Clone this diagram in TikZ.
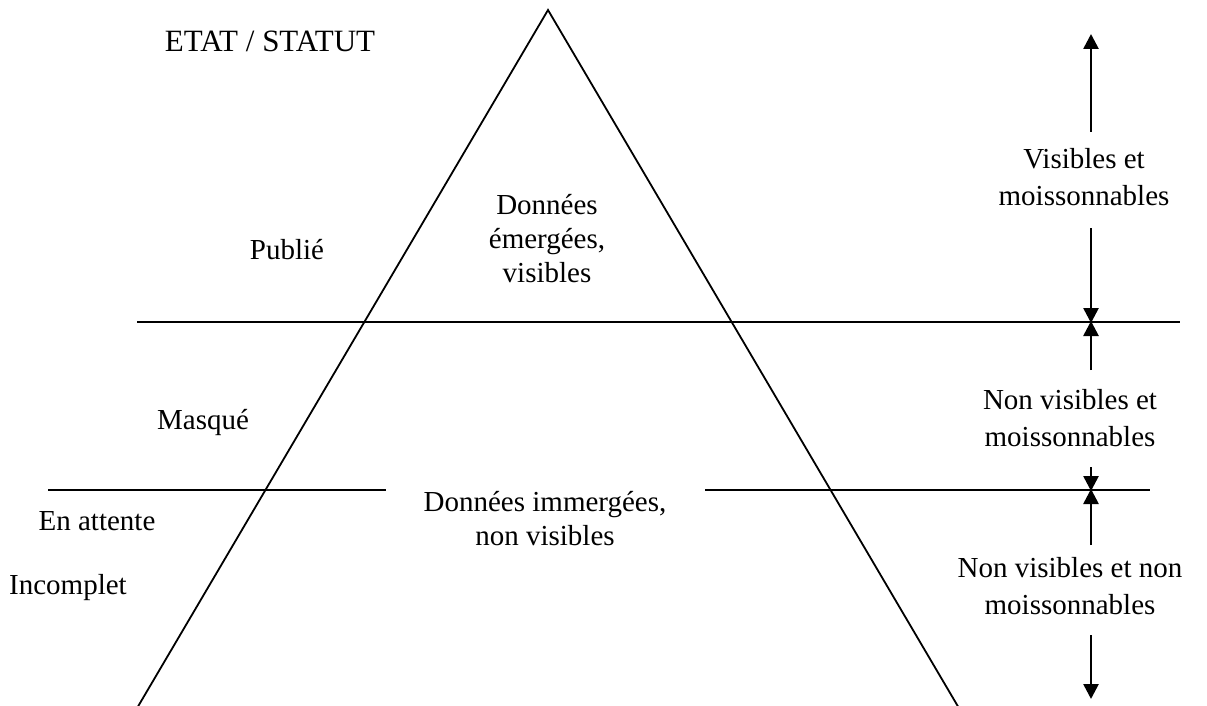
\documentclass[tikz,border=0pt]{standalone}
\usepackage{fontspec}
\setmainfont{Liberation Serif}
\usetikzlibrary{arrows.meta}
\begin{document}
\begin{tikzpicture}[x=1pt,y=-1pt,
  lbl/.style={font=\fontsize{29}{34}\selectfont, inner sep=0pt, align=center},
  rlbl/.style={font=\fontsize{29}{37}\selectfont, inner sep=0pt, align=center},
  edge/.style={line width=1.8pt},
  arr/.style={line width=2.6pt, -{Triangle[width=15pt,length=15pt]}, shorten >=-1pt}]
\useasboundingbox (0,0) rectangle (1207,706);
% triangle
\coordinate (apex) at (548,10);
\coordinate (bl) at (138,706.5);
\coordinate (br) at (958,706.5);
\draw[edge, line join=miter] (bl) -- (apex) -- (br);
\draw[line width=1.2pt, black!25] (bl) -- (br);
% horizontal lines
\coordinate (h1a) at (137,322);
\coordinate (h1b) at (1180,322);
\coordinate (h2a) at (48,490);
\coordinate (h2b) at (386,490);
\coordinate (h2c) at (705,490);
\coordinate (h2d) at (1150,490);
\draw[edge] (h1a) -- (h1b);
\draw[edge] (h2a) -- (h2b);
\draw[edge] (h2c) -- (h2d);
% left labels
\node[lbl, anchor=base, font=\fontsize{31}{36}\selectfont] (etat) at (270,52) {ETAT / STATUT};
\node[lbl, anchor=base] (publie) at (287,259) {Publié};
\node[lbl, anchor=base] (masque) at (203,429) {Masqué};
\node[lbl, anchor=base] (attente) at (97,530) {En attente};
\node[lbl, anchor=base] (incomplet) at (68,594) {Incomplet};
% triangle labels (base = last line)
\node[lbl, anchor=base] (emerg) at (547,282) {Données\\émergées,\\visibles};
\node[lbl, anchor=base] (immerg) at (545,545) {Données immergées,\\non visibles};
% right labels (base = last line)
\node[rlbl, anchor=base] (vis) at (1084,205) {Visibles et\\moissonnables};
\node[rlbl, anchor=base] (nvm) at (1070,446) {Non visibles et\\moissonnables};
\node[rlbl, anchor=base] (nvnm) at (1070,614) {Non visibles et non\\moissonnables};
% arrows
\coordinate (a1s) at (1091,132);
\coordinate (a1e) at (1091,35);
\coordinate (a2s) at (1091,228);
\coordinate (a2e) at (1091,322);
\coordinate (a3s) at (1091,370);
\coordinate (a3e) at (1091,322);
\coordinate (a4s) at (1091,467);
\coordinate (a4e) at (1091,490);
\coordinate (a5s) at (1091,545);
\coordinate (a5e) at (1091,490);
\coordinate (a6s) at (1091,635);
\coordinate (a6e) at (1091,698);
\draw[arr] (a1s) -- (a1e);
\draw[arr] (a2s) -- (a2e);
\draw[arr] (a3s) -- (a3e);
\draw[arr] (a4s) -- (a4e);
\draw[arr] (a5s) -- (a5e);
\draw[arr] (a6s) -- (a6e);
\end{tikzpicture}
\end{document}
